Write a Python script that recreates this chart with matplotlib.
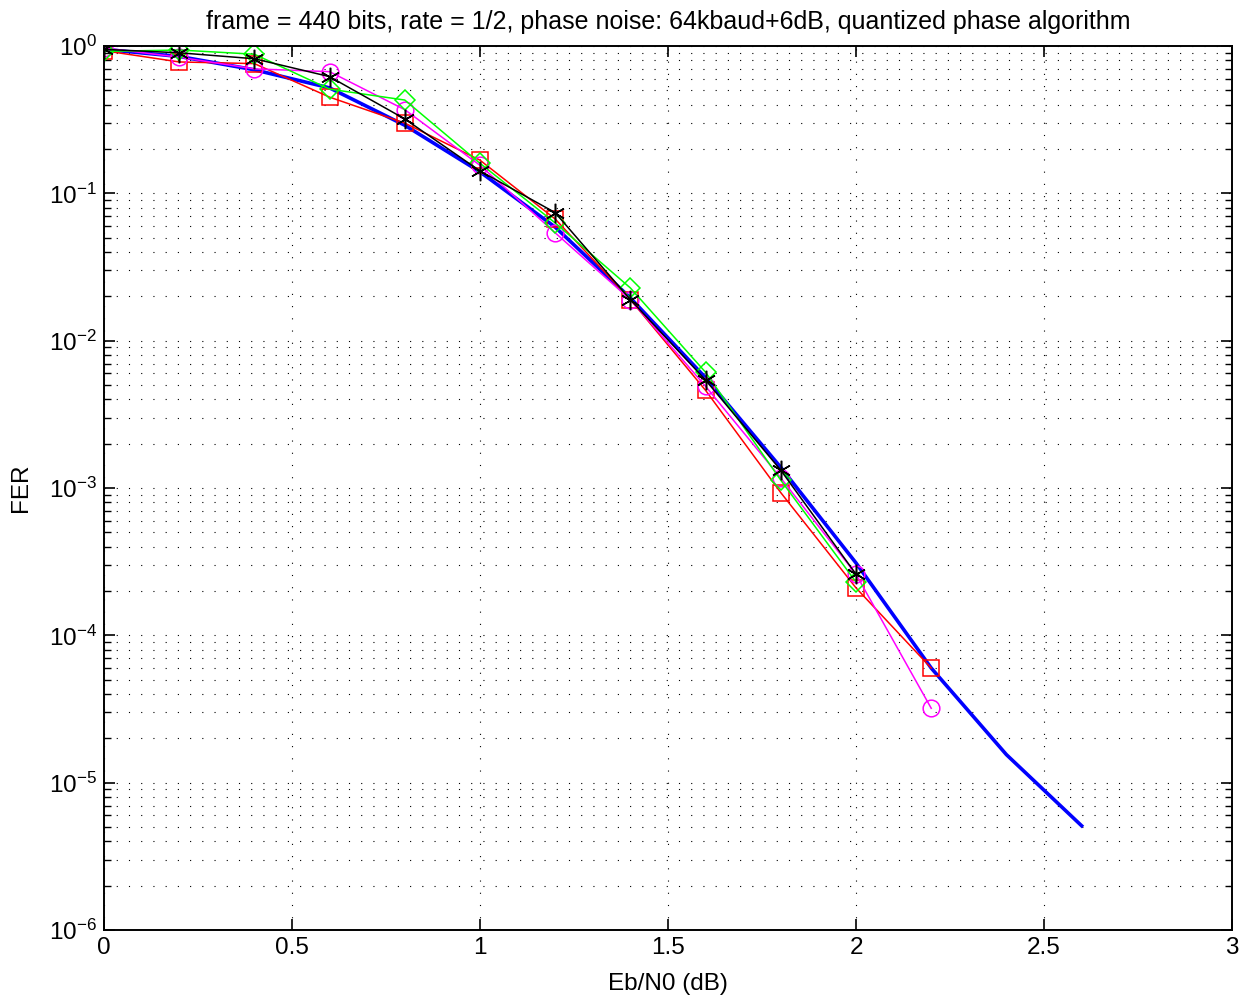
import matplotlib
matplotlib.use("Agg")
import matplotlib.pyplot as plt
from matplotlib.ticker import LogLocator, FixedLocator, NullFormatter

plt.rcParams["font.family"] = ["Liberation Sans", "DejaVu Sans"]
plt.rcParams["mathtext.fontset"] = "custom"
plt.rcParams["mathtext.rm"] = "Liberation Sans"
plt.rcParams["mathtext.it"] = "Liberation Sans:italic"
plt.rcParams["mathtext.bf"] = "Liberation Sans:bold"

# Eb/N0 grids
ebn0_ref = [0.0, 0.2, 0.4, 0.6, 0.8, 1.0, 1.2, 1.4, 1.6, 1.8, 2.0, 2.2, 2.4, 2.6]
ebn0_22 = [0.0, 0.2, 0.4, 0.6, 0.8, 1.0, 1.2, 1.4, 1.6, 1.8, 2.0, 2.2]
ebn0_20 = [0.0, 0.2, 0.4, 0.6, 0.8, 1.0, 1.2, 1.4, 1.6, 1.8, 2.0]

# FER curves
fer_blue = [0.95, 0.85, 0.69, 0.52, 0.29, 0.14, 0.059, 0.0195, 0.0056, 1.38e-3, 3.1e-4, 6.0e-5, 1.55e-5, 5.1e-6]
fer_red = [0.93, 0.78, 0.76, 0.45, 0.30, 0.168, 0.067, 0.019, 4.6e-3, 9.3e-4, 2.1e-4, 6.0e-5]
fer_magenta = [0.97, 0.84, 0.70, 0.67, 0.37, 0.155, 0.054, 0.019, 4.9e-3, 1.17e-3, 2.6e-4, 3.2e-5]
fer_green = [0.92, 0.94, 0.88, 0.51, 0.43, 0.16, 0.063, 0.0228, 6.1e-3, 1.13e-3, 2.3e-4]
fer_black = [0.95, 0.90, 0.82, 0.62, 0.32, 0.142, 0.074, 0.019, 5.4e-3, 1.32e-3, 2.6e-4]

xticks = [0, 0.5, 1, 1.5, 2, 2.5, 3]
xtick_labels = ["0", "0.5", "1", "1.5", "2", "2.5", "3"]
yticks = [1e-6, 1e-5, 1e-4, 1e-3, 1e-2, 1e-1, 1e0]

fig = plt.figure(figsize=(12.45, 10.01), dpi=100)
ax = fig.add_axes([0.0835, 0.0709, 0.9061, 0.8831])

ax.semilogy(ebn0_ref, fer_blue, color="#0000ff", linewidth=2.6)
mk = dict(markerfacecolor="none", linewidth=1.1, markeredgewidth=1.1)
ax.semilogy(ebn0_22, fer_red, color="#ff0000", marker="s", markersize=11, markeredgecolor="#ff0000", **mk)
ax.semilogy(ebn0_22, fer_magenta, color="#ff00ff", marker="o", markersize=12, markeredgecolor="#ff00ff", **mk)
ax.semilogy(ebn0_20, fer_green, color="#00ff00", marker="D", markersize=10, markeredgecolor="#00ff00", **mk)
ax.semilogy(ebn0_20, fer_black, color="black", marker=(6, 2, 0), markersize=14, markeredgecolor="black", **mk)

ax.set_xlim(0, 3)
ax.set_ylim(1e-6, 1)
ax.xaxis.set_major_locator(FixedLocator(xticks))
ax.set_xticklabels(xtick_labels)
ax.yaxis.set_major_locator(FixedLocator(yticks))
ax.set_yticklabels([f"$10^{{{e}}}$" for e in range(-6, 1)])
ax.yaxis.set_minor_locator(LogLocator(base=10, subs=range(2, 10), numticks=100))
ax.yaxis.set_minor_formatter(NullFormatter())

dots = (0, (1, 10))
ax.grid(True, which="major", axis="both", color="black", linestyle=dots, linewidth=0.8)
ax.grid(True, which="minor", axis="y", color="black", linestyle=dots, linewidth=0.8)
ax.tick_params(which="both", direction="in", top=True, right=True, labelsize=17.5)
ax.tick_params(which="major", length=8, width=1.2, pad=5)
ax.tick_params(which="minor", length=5, width=1)
for sp in ax.spines.values():
    sp.set_linewidth(1.4)

ax.set_xlabel("Eb/N0 (dB)", fontsize=17.5, labelpad=10)
ax.set_ylabel("FER", fontsize=17.5, labelpad=12)
ax.set_title("frame = 440 bits, rate = 1/2, phase noise: 64kbaud+6dB, quantized phase algorithm",
             fontsize=18, pad=12)

fig.savefig("out.png", dpi=100)
